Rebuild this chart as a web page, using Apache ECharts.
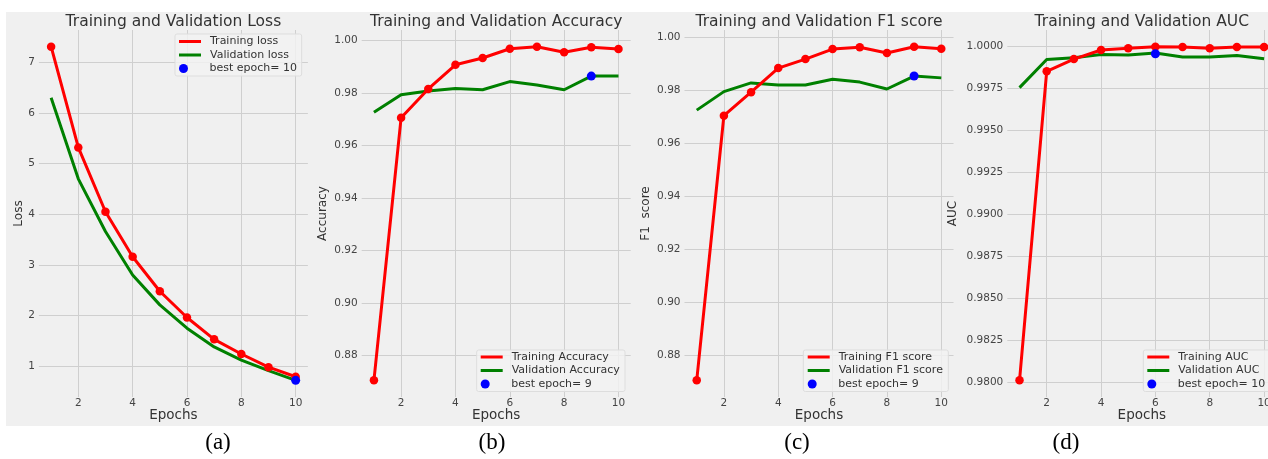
<!DOCTYPE html>
<html><head><meta charset="utf-8">
<script src="https://cdn.jsdelivr.net/npm/echarts@6/dist/echarts.min.js"></script>
<style>
html,body{margin:0;padding:0;background:#fff;}
#bg{position:absolute;left:6px;top:12px;width:1262px;height:414px;background:#f0f0f0;}
#chart{position:absolute;left:0;top:0;width:1268px;height:459px;}
</style></head><body>
<div id="bg"></div><div id="chart"></div>
<script>
// ---- data ----
const epochs = [1, 2, 3, 4, 5, 6, 7, 8, 9, 10];
const lossTrain = [7.31, 5.32, 4.05, 3.16, 2.48, 1.96, 1.53, 1.24, 0.98, 0.79];
const lossVal   = [6.30, 4.70, 3.66, 2.80, 2.21, 1.75, 1.38, 1.12, 0.91, 0.72];
const lossBest  = [10, 0.72];
const accTrain  = [0.8706, 0.9706, 0.9816, 0.9908, 0.9934, 0.9969, 0.9977, 0.9956, 0.9975, 0.9968];
const accVal    = [0.9727, 0.9794, 0.9808, 0.9818, 0.9813, 0.9844, 0.9831, 0.9813, 0.9865, 0.9865];
const accBest   = [9, 0.9865];
const f1Train   = [0.8704, 0.9705, 0.9794, 0.9885, 0.9919, 0.9957, 0.9964, 0.9942, 0.9966, 0.9958];
const f1Val     = [0.9726, 0.9796, 0.9829, 0.9821, 0.9821, 0.9843, 0.9832, 0.9806, 0.9855, 0.9848];
const f1Best    = [9, 0.9855];
const aucTrain  = [0.98010, 0.99853, 0.99926, 0.99980, 0.99990, 1.00000, 0.99998, 0.99990, 0.99998, 0.99998];
const aucVal    = [0.99756, 0.99924, 0.99934, 0.99954, 0.99950, 0.99962, 0.99938, 0.99938, 0.99948, 0.99928];
const aucBest   = [6, 0.99958];

const titles = ['Training and Validation Loss', 'Training and Validation Accuracy',
                'Training and Validation F1 score', 'Training and Validation AUC'];
const yNames = ['Loss', 'Accuracy', 'F1  score', 'AUC'];
const legendNames = [
  ['Training loss', 'Validation loss', 'best epoch= 10'],
  ['Training Accuracy', 'Validation Accuracy', 'best epoch= 9'],
  ['Training F1 score', 'Validation F1 score', 'best epoch= 9'],
  ['Training AUC', 'Validation AUC', 'best epoch= 10']
];
const captions = ['(a)', '(b)', '(c)', '(d)'];
const yIntervals = [1, 0.02, 0.02, 0.0025];
const yDecimals = [0, 2, 2, 4];
const xInterval = 2;

const trains = [lossTrain, accTrain, f1Train, aucTrain];
const vals = [lossVal, accVal, f1Val, aucVal];
const bests = [lossBest, accBest, f1Best, aucBest];

// ---- layout ----
const GRID_LEFT0 = 38.9, GRID_STEP = 322.8, GRID_W = 269, GRID_TOP = 30, GRID_H = 367;
const yNameGaps = [14, 33, 33, 48.5];
const legendLefts = [179, 480.7, 807.7, 1147.3];
const legendRow1 = [41.5, 357, 357, 357];
const legendBoxes = [[175, 34, 126.7, 42], [476.7, 350, 148.3, 41.5], [803.3, 350, 145, 41.5], [1143.3, 350, 135, 41.5]];
const captionX = [218, 492, 797, 1066];
const ROW = 13.5;

const RED = '#ff0000', GREEN = '#008000', BLUE = '#0000ff';
const gridColor = '#cfcfcf';
const FONT = 'DejaVu Sans';

function pairs(arr) { return arr.map((v, i) => [epochs[i], v]); }
function extentWithMargin(list) {
  const mn = Math.min(...list), mx = Math.max(...list);
  const m = (mx - mn) * 0.05;
  return [mn - m, mx + m];
}

const option = {
  animation: false,
  backgroundColor: 'transparent',
  title: [], grid: [], xAxis: [], yAxis: [], series: [], legend: [], graphic: []
};

const xExt = extentWithMargin(epochs);

for (let p = 0; p < 4; p++) {
  const left = GRID_LEFT0 + p * GRID_STEP;
  const yExt = extentWithMargin([...trains[p], ...vals[p], bests[p][1]]);
  option.grid.push({ left: left, top: GRID_TOP, width: GRID_W, height: GRID_H, containLabel: false, outerBoundsMode: 'none' });
  option.title.push({
    text: titles[p], left: left + GRID_W / 2, top: 12.5, textAlign: 'center', padding: 0,
    textStyle: { fontFamily: FONT, fontSize: 15.5, fontWeight: 'normal', color: '#333', lineHeight: 19 }
  });
  option.title.push({
    text: captions[p], left: captionX[p], top: 430, textAlign: 'center', padding: 0,
    textStyle: { fontFamily: 'Liberation Serif', fontSize: 23, fontWeight: 'normal', color: '#000', lineHeight: 26 }
  });
  option.xAxis.push({
    type: 'value', gridIndex: p, min: xExt[0], max: xExt[1], minInterval: xInterval, maxInterval: xInterval,
    axisLine: { show: false }, axisTick: { show: false },
    splitLine: { show: true, showMinLine: false, showMaxLine: false, lineStyle: { color: gridColor, width: 1 } },
    axisLabel: { showMinLabel: false, showMaxLabel: false, fontFamily: FONT, fontSize: 10.5, color: '#444', margin: 1 },
    name: 'Epochs', nameLocation: 'middle', nameGap: 11, nameMoveOverlap: false,
    nameTextStyle: { fontFamily: FONT, fontSize: 13.5, color: '#333' }
  });
  const dec = yDecimals[p];
  option.yAxis.push({
    type: 'value', gridIndex: p, min: yExt[0], max: yExt[1], minInterval: yIntervals[p], maxInterval: yIntervals[p],
    axisLine: { show: false }, axisTick: { show: false },
    splitLine: { show: true, showMinLine: false, showMaxLine: false, lineStyle: { color: gridColor, width: 1 } },
    axisLabel: { showMinLabel: false, showMaxLabel: false, fontFamily: FONT, fontSize: 10.5, color: '#444', margin: 4,
      formatter: v => v.toFixed(dec) },
    name: yNames[p], nameLocation: 'middle', nameGap: yNameGaps[p], nameMoveOverlap: false,
    nameTextStyle: { fontFamily: FONT, fontSize: 12, color: '#333' }
  });
  const names = legendNames[p];
  option.series.push({
    type: 'line', name: names[0], xAxisIndex: p, yAxisIndex: p, data: pairs(trains[p]),
    color: RED, symbol: 'circle', symbolSize: 8.5, showAllSymbol: true,
    lineStyle: { color: RED, width: 3 }, itemStyle: { color: RED }, z: 3
  });
  option.series.push({
    type: 'line', name: names[1], xAxisIndex: p, yAxisIndex: p, data: pairs(vals[p]),
    color: GREEN, symbol: 'none', showSymbol: false,
    lineStyle: { color: GREEN, width: 3 }, itemStyle: { color: GREEN }, z: 2
  });
  option.series.push({
    type: 'scatter', name: names[2], xAxisIndex: p, yAxisIndex: p, data: [bests[p]],
    color: BLUE, symbol: 'circle', symbolSize: 9, itemStyle: { color: BLUE, opacity: 1 }, z: 4
  });
  const lt = legendRow1[p] - ROW / 2;
  const ts1 = { fontFamily: FONT, fontSize: 11, color: '#333', lineHeight: ROW, padding: [0, 0, 0, 4] };
  const ts2 = { fontFamily: FONT, fontSize: 11, color: '#333', lineHeight: ROW, padding: [0, 0, 0, 10] };
  option.legend.push({
    orient: 'vertical', left: legendLefts[p], top: lt, padding: 0, itemGap: 0,
    itemWidth: 22, itemHeight: 3, selectedMode: false, z: 6,
    data: [{ name: names[0], icon: 'rect' }, { name: names[1], icon: 'rect' }],
    textStyle: ts1
  });
  option.legend.push({
    orient: 'vertical', left: legendLefts[p], top: lt + 2 * ROW, padding: 0, itemGap: 0,
    itemWidth: 22, itemHeight: 9, selectedMode: false, z: 6,
    data: [{ name: names[2], icon: 'circle', itemStyle: { opacity: 1 } }],
    textStyle: ts2
  });
  const b = legendBoxes[p];
  option.graphic.push({
    type: 'rect', z: 5, shape: { x: b[0], y: b[1], width: b[2], height: b[3], r: 2 },
    style: { fill: 'rgba(243,243,243,0.8)', stroke: '#dddddd', lineWidth: 1 }
  });
}

const chart = echarts.init(document.getElementById('chart'), null, { renderer: 'canvas' });
chart.setOption(option);
</script>
</body></html>
